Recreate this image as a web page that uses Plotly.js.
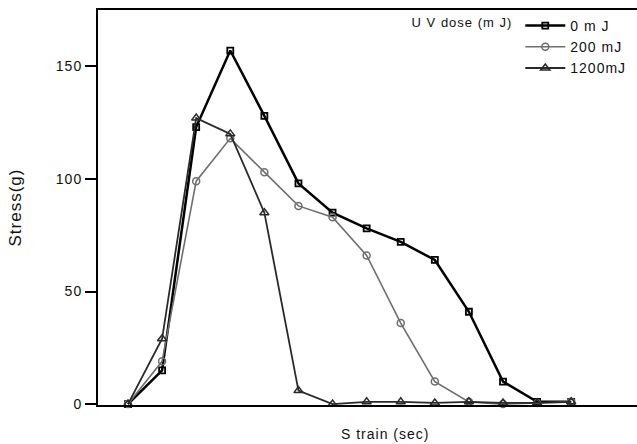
<!DOCTYPE html>
<html>
<head>
<meta charset="utf-8">
<script src="https://cdn.plot.ly/plotly-3.0.1.min.js"></script>
<style>
html,body{margin:0;padding:0;background:#fff;}
#chart{width:637px;height:444px;}
svg text{letter-spacing:1px;}
</style>
</head>
<body>
<div id="chart"></div>
<script>
// Strain sample index (x axis has no tick labels in the original)
const strain = [0, 1, 2, 3, 4, 5, 6, 7, 8, 9, 10, 11, 12, 13];
// Stress (g) per UV dose
const stress0mJ    = [0, 15, 123, 157, 128, 98, 85, 78, 72, 64, 41, 10, 1, 1];
const stress200mJ  = [0, 19, 99, 118, 103, 88, 83, 66, 36, 10, 1, 0, 0.5, 1];
const stress1200mJ = [0, 29, 127, 120, 85, 6, 0, 1, 1, 0.5, 1, 0.5, 0.5, 1];
const seriesNames = ["0 m J", "200 mJ", "1200mJ"];
const legendTitle = "U V dose (m J)";
const yTickVals = [0, 50, 100, 150];
const yTitle = "Stress(g)";
const xTitle = "S train (sec)";

const font = "Liberation Sans, Arial, sans-serif";

const traces = [
  {x: strain, y: stress0mJ, name: seriesNames[0], mode: "lines+markers", cliponaxis: false,
   line: {color: "#000", width: 2.5},
   marker: {symbol: "square-open", size: 6, color: "#000", line: {width: 1.8, color: "#000"}}},
  {x: strain, y: stress200mJ, name: seriesNames[1], mode: "lines+markers", cliponaxis: false,
   line: {color: "#6e6e6e", width: 1.6},
   marker: {symbol: "circle-open", size: 7, color: "#6e6e6e", line: {width: 1.5, color: "#6e6e6e"}}},
  {x: strain, y: stress1200mJ, name: seriesNames[2], mode: "lines+markers", cliponaxis: false,
   line: {color: "#2a2a2a", width: 1.8},
   marker: {symbol: "triangle-up-open", size: 8, color: "#2a2a2a", line: {width: 1.5, color: "#2a2a2a"}}}
];

const layout = {
  width: 637, height: 444,
  margin: {l: 98, r: 0, t: 10, b: 39},
  paper_bgcolor: "#fff", plot_bgcolor: "#fff",
  font: {family: font, color: "#000"},
  showlegend: true,
  legend: {
    x: 0.99, xanchor: "right", y: 1, yanchor: "top",
    bgcolor: "rgba(0,0,0,0)",
    font: {family: font, size: 14, color: "#111"},
    title: {text: legendTitle, side: "left", font: {family: font, size: 13, color: "#111"}},
    tracegroupgap: 0, itemwidth: 40
  },
  xaxis: {
    range: [-0.88, 14.93],
    showgrid: false, zeroline: false,
    showticklabels: false, ticks: "",
    showline: true, linecolor: "#000", linewidth: 2, mirror: true
  },
  yaxis: {
    range: [-0.4, 175],
    tickvals: yTickVals,
    showgrid: false, zeroline: false,
    ticks: "outside", ticklen: 11, tickwidth: 2, tickcolor: "#000",
    tickfont: {family: font, size: 14, color: "#111"},
    showline: true, linecolor: "#000", linewidth: 2,
    title: {text: yTitle, font: {family: font, size: 17, color: "#111"}, standoff: 30}
  },
  annotations: [
    {text: xTitle, xref: "paper", yref: "paper", x: 0.533, y: 0, yshift: -29,
     xanchor: "center", yanchor: "middle", showarrow: false,
     font: {family: font, size: 14, color: "#111"}}
  ]
};

Plotly.newPlot("chart", traces, layout, {staticPlot: true, displayModeBar: false});
</script>
</body>
</html>
